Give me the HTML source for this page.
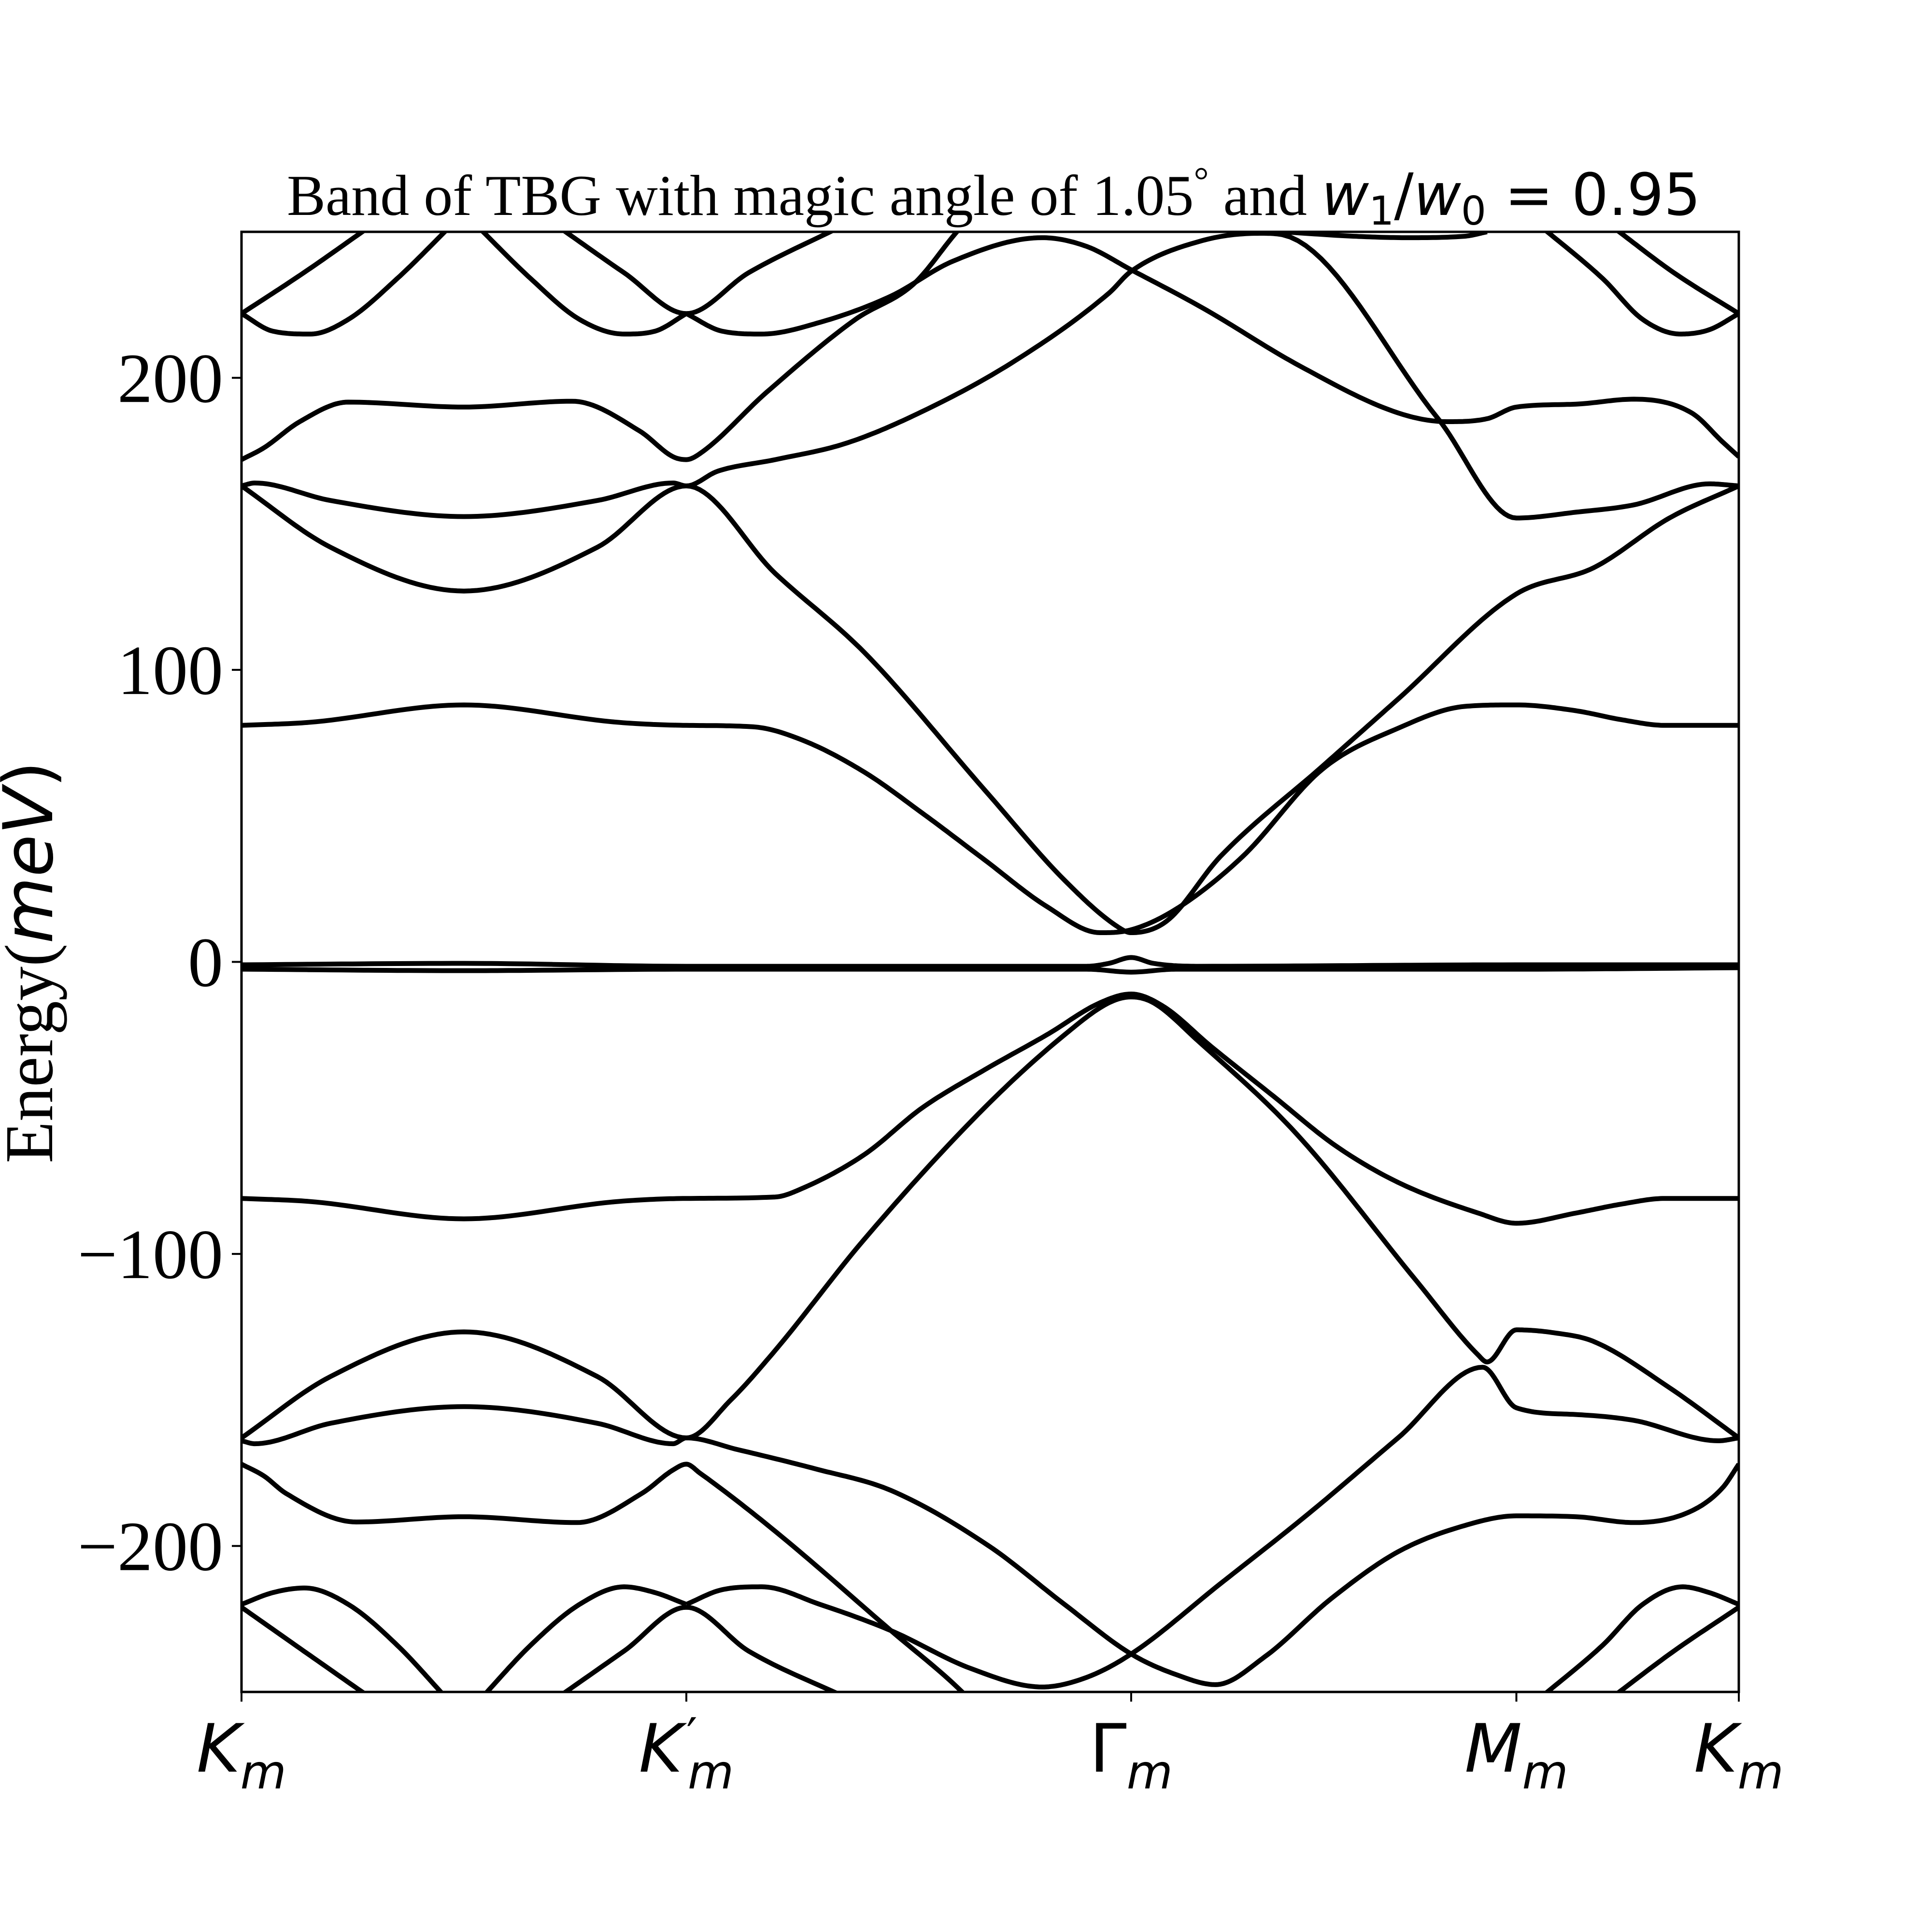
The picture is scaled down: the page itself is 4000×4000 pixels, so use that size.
<!DOCTYPE html>
<html><head><meta charset="utf-8"><style>
html,body{margin:0;padding:0;background:#fff}
svg{display:block}
</style></head><body>
<svg id="chart" width="4000" height="4000" viewBox="0 0 4000 4000" xmlns="http://www.w3.org/2000/svg">
<rect width="4000" height="4000" fill="#fff"/>
<defs><clipPath id="clip"><rect x="500" y="480" width="3100" height="3023"/></clipPath></defs>
<text x="594" y="445" font-family="Liberation Serif, serif" font-size="120" fill="#000">Band of TBG with magic angle of 1.05<tspan dy="-45" font-size="78">°</tspan><tspan dy="45"> and </tspan><tspan font-family="DejaVu Sans, sans-serif" font-style="italic">w</tspan><tspan font-family="DejaVu Sans, sans-serif" font-size="82" dy="20">1</tspan><tspan font-family="DejaVu Sans, sans-serif" dy="-20">/</tspan><tspan font-family="DejaVu Sans, sans-serif" font-style="italic">w</tspan><tspan font-family="DejaVu Sans, sans-serif" font-size="82" dy="20">0</tspan><tspan font-family="DejaVu Sans, sans-serif" dy="-20"> = 0.95</tspan></text>
<g id="bands" clip-path="url(#clip)"></g>
<rect x="500" y="480" width="3100" height="3023" fill="none" stroke="#000" stroke-width="5"/>
<g id="ticks"></g>
<text transform="translate(108,1992) rotate(-90)" text-anchor="middle" font-family="Liberation Serif, serif" font-size="142" fill="#000">Energy(<tspan font-family="DejaVu Sans, sans-serif" font-style="italic">meV</tspan><tspan font-family="DejaVu Sans, sans-serif">)</tspan></text>
</svg>
<script>
const kLabels = ["K","K","Γ","M","K"];
const kPrimes = ["","′","","",""];
const kTicks = [0, 1, 2, 2.866, 3.366];
const yTicks = [200, 100, 0, -100, -200];
const yTickLabels = ["200","100","0","−100","−200"];

const flatTop = [[0,-1],[0.5,-0.5],[1,-1.5],[1.9,-1.5],[1.95,-0.5],[2,1.5],[2.05,-0.5],[2.15,-1.5],[2.866,-1],[3.366,-1]];
const flatBot = [[0,-2.5],[0.5,-3],[1,-2.5],[1.9,-2.5],[2,-3.5],[2.1,-2.5],[2.866,-2.5],[3.366,-2]];
const up81 = [[0,81],[0.15,82],[0.5,88],[0.85,82],[1,81],[1.15,80.5],[1.26,76],[1.4,65],[1.53,51],[1.67,35],[1.81,19],[1.93,10],[2,11],[2.1,18],[2.25,36],[2.43,66],[2.6,80],[2.75,87.5],[2.866,88],[3.0,86],[3.1,83],[3.2,81],[3.366,81]];
const up126 = [[0,163],[0.2,142],[0.5,127],[0.8,142],[1,163],[1.2,133],[1.4,106],[1.67,59],[1.85,28],[1.97,12],[2,10],[2.08,14],[2.2,36],[2.43,67],[2.6,90],[2.866,126],[3.04,135],[3.21,152],[3.366,163]];
const up152 = [[0,163],[0.03,164],[0.2,158],[0.5,152.5],[0.8,158],[0.97,164],[1,163],[1.07,168],[1.2,172],[1.355,177.4],[1.51,187],[1.73,205],[1.95,229],[2,236.5],[2.16,247],[2.29,249.5],[2.34,249],[2.69,186],[2.866,152],[3.0,154],[3.13,156.5],[3.3,163.7],[3.366,163]];
const up190 = [[0,172],[0.05,176],[0.131,185],[0.24,191.7],[0.5,190],[0.743,192],[0.896,181.7],[0.97,173],[1,172],[1.03,174],[1.18,195],[1.38,220],[1.51,232],[1.62,252],[1.65,256]];
const upPeak = [[1,222],[1.08,216],[1.17,215],[1.3,219],[1.46,228],[1.6,240],[1.8,248],[1.9,245],[2,237],[2.16,224],[2.38,204],[2.6,188],[2.71,185],[2.8,186],[2.866,190],[3.0,191],[3.13,192.7],[3.26,188],[3.33,178],[3.366,173]];
const upTop1 = [[0,222],[0.07,216],[0.155,215],[0.24,220],[0.35,234],[0.47,252]];
const upTop2 = [[0,222],[0.14,236],[0.29,252]];
const upTop3 = [[0.53,252],[0.65,234],[0.76,220],[0.86,215],[0.93,216],[1,222]];
const upTop4 = [[0.71,252],[0.86,236],[1,222],[1.14,236],[1.35,252]];
const upTop5 = [[2.92,252],[3.06,234],[3.15,220],[3.235,215],[3.3,216.5],[3.366,222]];
const upTop6 = [[3.08,252],[3.22,236],[3.366,222]];
const upTopFlat = [[2.34,250],[2.5,248.5],[2.62,248],[2.75,248.5],[2.8,250]];
const lo81 = [[0,-81],[0.15,-82],[0.5,-88],[0.85,-82],[1,-81],[1.2,-80.5],[1.26,-77.6],[1.4,-66],[1.53,-50],[1.67,-37],[1.81,-25],[1.93,-14],[2,-11],[2.07,-15],[2.18,-29],[2.32,-46],[2.46,-63],[2.6,-75.5],[2.78,-86],[2.866,-89.5],[3.0,-86],[3.1,-83],[3.2,-81],[3.366,-81]];
const lo126 = [[0,-163],[0.2,-142],[0.5,-126.7],[0.8,-142],[1,-163],[1.1,-150],[1.2,-133],[1.4,-95],[1.67,-50],[1.85,-25],[1.95,-14],[2,-12],[2.05,-14],[2.15,-27],[2.37,-58.6],[2.64,-109],[2.78,-134.6],[2.8,-137],[2.866,-126],[2.95,-127],[3.04,-130],[3.21,-145.8],[3.366,-163]];
const lo152 = [[0,-164],[0.03,-165],[0.2,-158],[0.5,-152.3],[0.8,-158],[0.97,-165],[1,-163],[1.115,-167],[1.29,-173.6],[1.46,-181],[1.68,-200],[1.85,-220],[2,-237],[2.1,-244],[2.19,-247.5],[2.3,-238],[2.45,-218],[2.6,-202],[2.75,-193],[2.866,-189.7],[3.0,-190],[3.13,-192],[3.26,-188],[3.33,-180],[3.366,-172]];
const loLineA = [[1,-220],[1.08,-215],[1.17,-214],[1.3,-220],[1.46,-229],[1.64,-242],[1.8,-248.3],[1.9,-245],[2,-237],[2.2,-213],[2.4,-188.8],[2.6,-163],[2.79,-138.8],[2.866,-152.7],[3.0,-155],[3.13,-157],[3.32,-164],[3.366,-163]];
const lo190 = [[0,-172],[0.05,-176],[0.1,-182],[0.258,-191.8],[0.5,-190],[0.754,-192],[0.9,-182],[0.97,-174],[1,-172],[1.03,-175],[1.2,-195],[1.46,-229],[1.62,-250],[1.65,-255]];
const loBot1 = [[0,-220],[0.07,-216],[0.142,-214.4],[0.24,-220],[0.35,-234],[0.46,-252]];
const loBot2 = [[0,-221],[0.14,-236],[0.29,-252]];
const loBot3 = [[0.54,-252],[0.65,-234],[0.76,-220],[0.86,-214],[0.93,-216],[1,-220]];
const loBot4 = [[0.71,-252],[0.86,-236],[1,-221],[1.14,-236],[1.36,-252]];
const loBot5 = [[2.92,-252],[3.06,-234],[3.15,-220],[3.24,-214],[3.3,-216],[3.366,-220]];
const loBot6 = [[3.08,-252],[3.22,-236],[3.366,-221]];

const bandList = [flatTop,flatBot,up81,up126,up152,up190,upPeak,upTop1,upTop2,upTop3,upTop4,upTop5,upTop6,upTopFlat,lo81,lo126,lo152,loLineA,lo190,loBot1,loBot2,loBot3,loBot4,loBot5,loBot6];

const NS = "http://www.w3.org/2000/svg";
const X0=500, X1=3600, Y0=480, Y1=3503, KMAX=3.366, EMIN=-250, EMAX=250;
function xs(k){ return X0 + (k/KMAX)*(X1-X0); }
function ys(e){ return Y1 - (e-EMIN)/(EMAX-EMIN)*(Y1-Y0); }

function monotonePath(pts){
  const n=pts.length, xsA=pts.map(p=>p[0]), yA=pts.map(p=>p[1]);
  if(n<3){ return pts.map((p,i)=>(i?'L':'M')+xs(p[0]).toFixed(1)+','+ys(p[1]).toFixed(1)).join(''); }
  const d=[], m=new Array(n);
  for(let i=0;i<n-1;i++) d.push((yA[i+1]-yA[i])/(xsA[i+1]-xsA[i]));
  m[0]=d[0]; m[n-1]=d[n-2];
  for(let i=1;i<n-1;i++){ m[i]=(d[i-1]*d[i]<=0)?0:(d[i-1]+d[i])/2; }
  for(let i=0;i<n-1;i++){
    if(d[i]===0){m[i]=0;m[i+1]=0;continue;}
    const a=m[i]/d[i], b=m[i+1]/d[i], s=a*a+b*b;
    if(s>9){const t=3/Math.sqrt(s); m[i]=t*a*d[i]; m[i+1]=t*b*d[i];}
  }
  let out='M'+xs(xsA[0]).toFixed(1)+','+ys(yA[0]).toFixed(1);
  for(let i=0;i<n-1;i++){
    const h=xsA[i+1]-xsA[i], steps=20;
    for(let s=1;s<=steps;s++){
      const t=s/steps, t2=t*t, t3=t2*t;
      const y=(2*t3-3*t2+1)*yA[i]+(t3-2*t2+t)*h*m[i]+(-2*t3+3*t2)*yA[i+1]+(t3-t2)*h*m[i+1];
      out+='L'+xs(xsA[i]+t*h).toFixed(1)+','+ys(y).toFixed(1);
    }
  }
  return out;
}

const g=document.getElementById('bands');
bandList.forEach((b,i)=>{
  const p=document.createElementNS(NS,'path');
  p.setAttribute('d',monotonePath(b));
  p.setAttribute('fill','none'); p.setAttribute('stroke','#000');
  p.setAttribute('stroke-width','10'); p.setAttribute('stroke-linejoin','round');
  
  
  g.appendChild(p);
});

const tg=document.getElementById('ticks');
yTicks.forEach((v,i)=>{
  const l=document.createElementNS(NS,'line');
  l.setAttribute('x1',X0-20); l.setAttribute('x2',X0); l.setAttribute('y1',ys(v)); l.setAttribute('y2',ys(v));
  l.setAttribute('stroke','#000'); l.setAttribute('stroke-width','4');
  
  
  tg.appendChild(l);
  const t=document.createElementNS(NS,'text');
  t.setAttribute('x',X0-38); t.setAttribute('y',ys(v)+50);
  t.setAttribute('text-anchor','end'); t.setAttribute('font-family','Liberation Serif, serif');
  t.setAttribute('font-size','146'); t.textContent=yTickLabels[i];
  
  
  tg.appendChild(t);
});
kTicks.forEach((k,i)=>{
  const l=document.createElementNS(NS,'line');
  l.setAttribute('x1',xs(k)); l.setAttribute('x2',xs(k)); l.setAttribute('y1',Y1); l.setAttribute('y2',Y1+20);
  l.setAttribute('stroke','#000'); l.setAttribute('stroke-width','4');
  
  
  tg.appendChild(l);
  const t=document.createElementNS(NS,'text');
  t.setAttribute('x',xs(k)); t.setAttribute('y',3668);
  t.setAttribute('text-anchor','middle'); t.setAttribute('font-family','DejaVu Sans, sans-serif');
  t.setAttribute('font-size','138'); t.setAttribute('font-style', kLabels[i]==="Γ"?'normal':'italic');
  
  
  const a=document.createElementNS(NS,'tspan'); a.textContent=kLabels[i];
  t.appendChild(a);
  if(kPrimes[i]){
    const p=document.createElementNS(NS,'tspan'); p.textContent=kPrimes[i];
    p.setAttribute('font-size','100'); p.setAttribute('dx','8'); p.setAttribute('dy','-40'); p.setAttribute('font-style','normal');
    t.appendChild(p);
    const b=document.createElementNS(NS,'tspan'); b.textContent='m';
    b.setAttribute('font-size','98'); b.setAttribute('dx','-20'); b.setAttribute('dy','75'); b.setAttribute('font-style','italic');
    t.appendChild(b);
  } else {
    const b=document.createElementNS(NS,'tspan'); b.textContent='m';
    b.setAttribute('font-size','98'); b.setAttribute('dy','35'); b.setAttribute('font-style','italic');
    t.appendChild(b);
  }
  tg.appendChild(t);
});
</script>
</body></html>
